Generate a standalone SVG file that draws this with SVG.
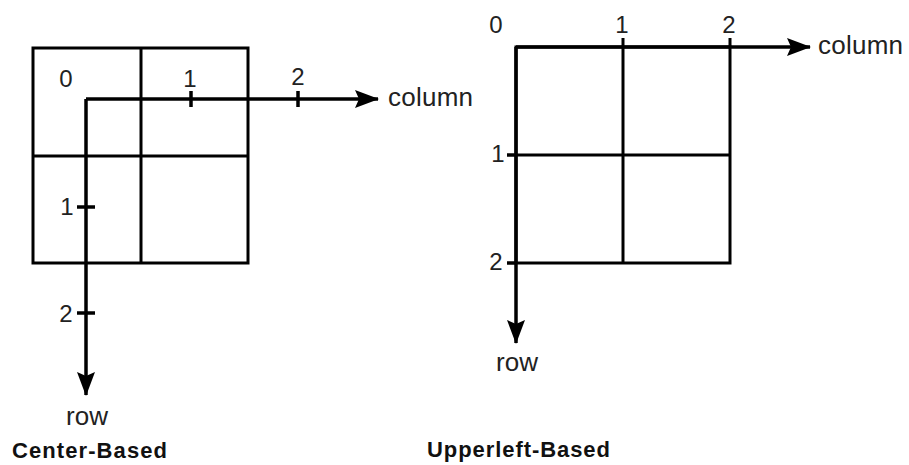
<svg xmlns="http://www.w3.org/2000/svg" width="909" height="465" viewBox="0 0 909 465">
<style>
.grid{fill:none;stroke:#000;stroke-width:3}
.axis{fill:none;stroke:#000;stroke-width:3.5}
.tick{stroke:#000;stroke-width:3.5}
.lbl{font-family:"Liberation Sans",Arial,sans-serif;font-size:24px;fill:#222}
.word{font-family:"Liberation Sans",Arial,sans-serif;font-size:26px;fill:#222}
.title{font-family:"Liberation Sans",Arial,sans-serif;font-size:22px;font-weight:bold;fill:#111}
</style>
<defs>
<marker id="arr" markerUnits="userSpaceOnUse" markerWidth="26" markerHeight="20" refX="23" refY="9" orient="auto" viewBox="0 0 26 20">
<path d="M0,0 L24,9 L0,18 L4,9 Z" fill="#000"/>
</marker>
</defs>
<rect width="909" height="465" fill="#fff"/>
<g id="center-grid">
<rect class="grid" x="33" y="48" width="215" height="215"/>
<line class="grid" x1="141" y1="48" x2="141" y2="263"/>
<line class="grid" x1="33" y1="156" x2="248" y2="156"/>
</g>
<g id="upperleft-grid">
<rect class="grid" x="516" y="47" width="214" height="216"/>
<line class="grid" x1="623" y1="38" x2="623" y2="263"/>
<line class="grid" x1="730" y1="38" x2="730" y2="47"/>
<line class="grid" x1="516" y1="155" x2="730" y2="155"/>
</g>
<g id="connectors">
<path class="axis" d="M86,99 L378,99" marker-end="url(#arr)"/>
<path class="axis" d="M86,99 L86,395" marker-end="url(#arr)"/>
<path class="axis" d="M516,47 L810,47" marker-end="url(#arr)"/>
<path class="axis" d="M516,47 L516,343" marker-end="url(#arr)"/>
</g>
<g id="center-ticks">
<line class="tick" x1="191" y1="91" x2="191" y2="107"/>
<line class="tick" x1="298" y1="91" x2="298" y2="107"/>
<line class="tick" x1="77" y1="207" x2="95" y2="207"/>
<line class="tick" x1="77" y1="313" x2="95" y2="313"/>
</g>
<g id="upperleft-ticks">
<line class="tick" x1="507" y1="155" x2="516" y2="155"/>
<line class="tick" x1="507" y1="263" x2="516" y2="263"/>
</g>
<g id="center-labels">
<text class="lbl" x="66" y="87" text-anchor="middle">0</text>
<text class="lbl" x="190" y="87" text-anchor="middle">1</text>
<text class="lbl" x="298" y="85" text-anchor="middle">2</text>
<text class="word" x="388" y="106" textLength="85">column</text>
<text class="lbl" x="67" y="215" text-anchor="middle">1</text>
<text class="lbl" x="66" y="322" text-anchor="middle">2</text>
<text class="word" x="87" y="425" text-anchor="middle">row</text>
<text class="title" x="12" y="458" textLength="155">Center-Based</text>
</g>
<g id="upperleft-labels">
<text class="lbl" x="496" y="33" text-anchor="middle">0</text>
<text class="lbl" x="622" y="33" text-anchor="middle">1</text>
<text class="lbl" x="729" y="33" text-anchor="middle">2</text>
<text class="word" x="818" y="54" textLength="85">column</text>
<text class="lbl" x="498" y="162" text-anchor="middle">1</text>
<text class="lbl" x="496" y="270" text-anchor="middle">2</text>
<text class="word" x="517" y="371" text-anchor="middle">row</text>
<text class="title" x="427" y="457" textLength="183">Upperleft-Based</text>
</g>
</svg>
